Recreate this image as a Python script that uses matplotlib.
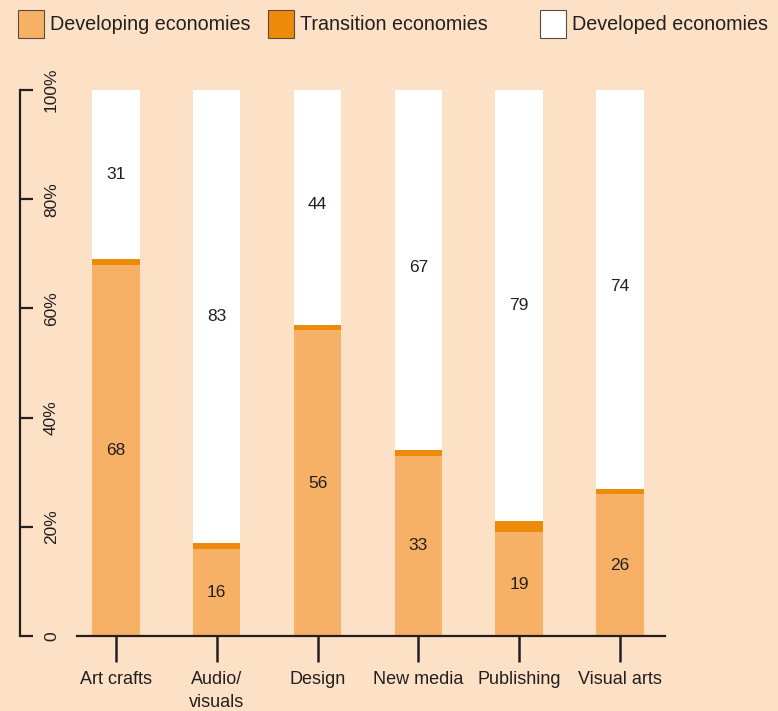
import matplotlib.pyplot as plt
import numpy as np
from matplotlib.patches import Rectangle

categories = ["Art crafts", "Audio/\nvisuals", "Design", "New media", "Publishing", "Visual arts"]
developing = [68, 16, 56, 33, 19, 26]
transition = [1, 1, 1, 1, 2, 1]
developed = [31, 83, 44, 67, 79, 74]
series_names = ["Developing economies", "Transition economies", "Developed economies"]

bg = "#FCE1C6"
c_dev = "#F7B166"
c_tr = "#EE8A0A"
c_hi = "#FFFFFF"
ink = "#231F20"

plt.rcParams["font.family"] = ["Liberation Sans", "DejaVu Sans"]

fig = plt.figure(figsize=(7.78, 7.11), dpi=100, facecolor=bg)
ax = fig.add_axes([77 / 778, 75 / 711, 588 / 778, 546 / 711])
ax.set_facecolor(bg)

x = np.arange(len(categories))
w = 0.47
dev = np.array(developing)
tr = np.array(transition)
hi = np.array(developed)

ax.bar(x, dev, w, color=c_dev, zorder=2)
ax.bar(x, tr, w, bottom=dev, color=c_tr, zorder=2)
ax.bar(x, hi, w, bottom=dev + tr, color=c_hi, zorder=2)

for i in range(len(categories)):
    ax.text(x[i], dev[i] / 2, str(dev[i]), ha="center", va="center", fontsize=12.5, color=ink)
    ax.text(x[i], dev[i] + tr[i] + hi[i] / 2, str(hi[i]), ha="center", va="center",
            fontsize=12.5, color=ink)

ax.set_xlim(-0.387, 5.447)
ax.set_ylim(0, 100)

for s in ["top", "right"]:
    ax.spines[s].set_visible(False)
ax.spines["left"].set_position(("outward", 41))
for s in ["left", "bottom"]:
    ax.spines[s].set_color(ink)
    ax.spines[s].set_linewidth(1.6)

ax.set_yticks([0, 20, 40, 60, 80, 100], ["0", "20%", "40%", "60%", "80%", "100%"])
ax.tick_params(axis="y", direction="in", length=9.4, width=1.6, pad=-28,
               labelrotation=90, labelsize=12.5, colors=ink)
ax.set_xticks(x, categories)
ax.tick_params(axis="x", direction="out", length=19, width=1.8, pad=6,
               labelsize=13, colors=ink)
for lab in ax.get_yticklabels():
    lab.set_va("center")
for lab in ax.get_xticklabels():
    lab.set_linespacing(1.45)

# legend row across the top
items = [(18, c_dev, series_names[0]), (268, c_tr, series_names[1]), (540, c_hi, series_names[2])]
for px, col, name in items:
    fig.patches.append(Rectangle((px / 778, 1 - 38 / 711), 26 / 778, 28 / 711,
                                 transform=fig.transFigure, facecolor=col,
                                 edgecolor="#5a4a40", linewidth=0.8))
    fig.text((px + 32) / 778, 1 - 24 / 711, name, ha="left", va="center",
             fontsize=14.2, color=ink)

fig.savefig("out.png", dpi=100, facecolor=bg)
